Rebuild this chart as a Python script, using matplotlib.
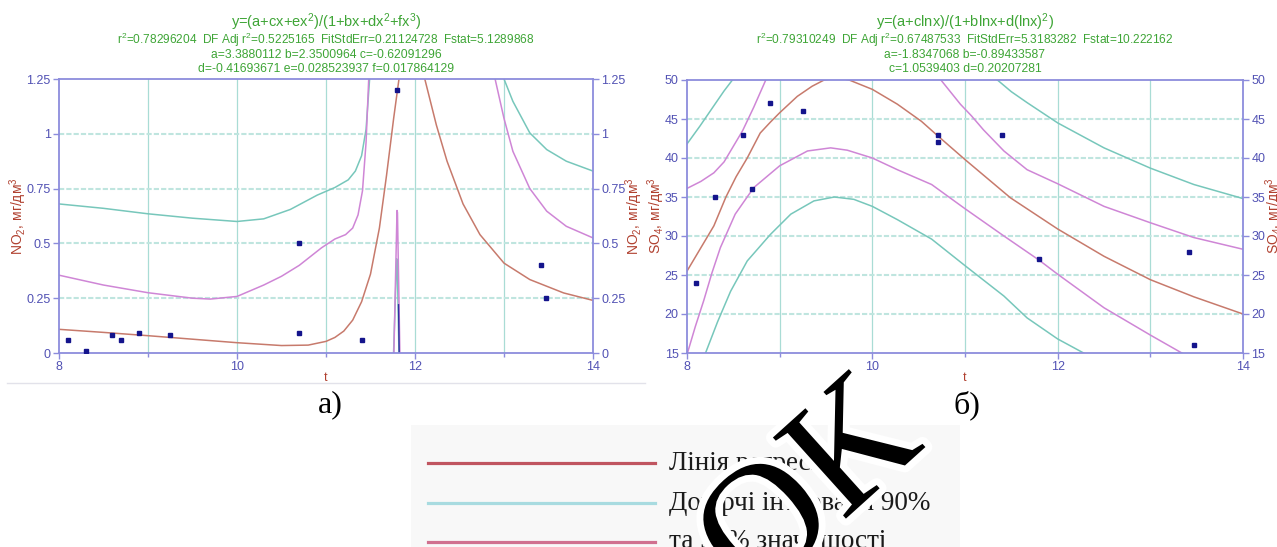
import numpy as np
import matplotlib
matplotlib.use("Agg")
import matplotlib.pyplot as plt
from matplotlib.ticker import FixedLocator, FixedFormatter
from matplotlib.patches import Rectangle
from matplotlib.lines import Line2D
import matplotlib.patheffects as pe

plt.rcParams['font.family'] = ['Liberation Sans', 'DejaVu Sans']
plt.rcParams['mathtext.fontset'] = 'custom'
plt.rcParams['mathtext.rm'] = 'Liberation Sans'
plt.rcParams['mathtext.it'] = 'Liberation Sans:italic'

nan = np.nan

# ---------------- data: panel a (NO2) ----------------
t_no2 = [8.1, 8.3, 8.6, 8.7, 8.9, 9.25, 10.7, 10.7, 11.4, 11.8, 13.42, 13.47]
no2 = [0.06, 0.01, 0.08, 0.06, 0.09, 0.08, 0.5, 0.09, 0.06, 1.2, 0.4, 0.25]

fit_x_a = [8.0, 8.5, 9.0, 9.5, 10.0, 10.5, 10.8, 11.0, 11.1, 11.2, 11.3, 11.4, 11.5,
           11.6, 11.68, 11.76, 11.82, 11.9, 12.0, 12.11, 12.24, 12.36, 12.54, 12.73,
           13.0, 13.29, 13.67, 14.0]
fit_y_a = [0.108, 0.094, 0.079, 0.063, 0.047, 0.034, 0.036, 0.053, 0.071, 0.10, 0.15,
           0.234, 0.36, 0.57, 0.81, 1.07, 1.25, 1.43, 1.44, 1.25, 1.04, 0.875, 0.68,
           0.54, 0.41, 0.335, 0.274, 0.24]

up95_x_a = [8.0, 8.5, 9.0, 9.5, 9.7, 10.0, 10.3, 10.5, 10.7, 10.95, 11.1, 11.22, 11.3,
            11.36, 11.41, 11.45, 11.48, 11.5, nan, 12.87, 12.9, 13.0, 13.1, 13.29,
            13.48, 13.7, 14.0]
up95_y_a = [0.355, 0.31, 0.275, 0.25, 0.246, 0.258, 0.31, 0.35, 0.40, 0.48, 0.52, 0.54,
            0.57, 0.63, 0.74, 0.96, 1.25, 1.4, nan, 1.4, 1.25, 1.07, 0.92, 0.75, 0.647,
            0.578, 0.525]

up90_x_a = [8.0, 8.5, 9.0, 9.5, 10.0, 10.3, 10.6, 10.9, 11.1, 11.25, 11.33, 11.4, 11.45,
            11.49, 11.51, nan, 12.97, 13.0, 13.1, 13.29, 13.48, 13.7, 14.0]
up90_y_a = [0.68, 0.66, 0.635, 0.615, 0.60, 0.612, 0.655, 0.72, 0.755, 0.79, 0.83, 0.90,
            1.02, 1.25, 1.4, nan, 1.35, 1.25, 1.148, 1.004, 0.928, 0.875, 0.83]

lo95_x_a = [11.76, 11.798, 11.803, 11.832]
lo95_y_a = [-0.05, 0.65, 0.64, -0.05]
lo90_x_a = [11.755, 11.794, 11.80, 11.822]
lo90_y_a = [-0.05, 0.43, 0.42, -0.05]
lo_dark_x_a = [11.815, 11.823]
lo_dark_y_a = [0.22, -0.02]

# ---------------- data: panel b (SO4) ----------------
t_so4 = [8.1, 8.3, 8.6, 8.7, 8.9, 9.25, 10.71, 10.71, 11.4, 11.8, 13.42, 13.47]
so4 = [24, 35, 43, 36, 47, 46, 43, 42, 43, 27, 28, 16]

fit_x_b = [8.0, 8.15, 8.29, 8.42, 8.53, 8.65, 8.79, 8.9, 9.0, 9.19, 9.35, 9.48, 9.62,
           9.75, 10.0, 10.27, 10.53, 10.71, 11.0, 11.49, 12.0, 12.5, 13.0, 13.47, 14.0]
fit_y_b = [25.5, 28.5, 31.3, 35.0, 37.6, 40.0, 43.2, 44.6, 45.8, 47.9, 49.2, 50.0, 50.3,
           50.0, 48.8, 46.9, 44.7, 42.8, 39.8, 34.9, 30.9, 27.4, 24.4, 22.2, 20.0]

up95_x_b = [8.0, 8.15, 8.29, 8.4, 8.47, 8.6, 8.72, 8.85, 8.9, nan, 10.7, 10.74, 10.95,
            11.07, 11.2, 11.42, 11.67, 12.0, 12.5, 13.0, 13.47, 14.0]
up95_y_b = [36.1, 37.0, 38.1, 39.5, 40.9, 43.5, 46.5, 50.0, 51.5, nan, 51.0, 50.0, 46.9,
            45.4, 43.6, 40.9, 38.5, 36.7, 33.8, 31.7, 29.8, 28.3]

lo95_x_b = [8.0, 8.09, 8.18, 8.27, 8.36, 8.52, 8.72, 9.0, 9.3, 9.55, 9.73, 10.0, 10.27,
            10.64, 11.0, 11.42, 11.8, 12.0, 12.5, 13.0, 13.34, 13.4]
lo95_y_b = [14.8, 18.4, 21.7, 25.3, 28.5, 32.8, 36.2, 39.0, 40.9, 41.3, 41.0, 40.0, 38.5,
            36.6, 33.5, 30.0, 26.9, 25.1, 20.8, 17.3, 15.0, 14.6]

up90_x_b = [8.0, 8.14, 8.29, 8.4, 8.49, 8.52, nan, 11.3, 11.35, 11.5, 11.67, 12.0, 12.5,
            13.0, 13.47, 14.0]
up90_y_b = [41.8, 44.1, 46.7, 48.6, 50.0, 50.6, nan, 50.4, 50.0, 48.5, 47.1, 44.5, 41.3,
            38.7, 36.6, 34.8]

lo90_x_b = [8.18, 8.2, 8.33, 8.47, 8.65, 8.9, 9.12, 9.37, 9.59, 9.8, 10.0, 10.27, 10.64,
            11.0, 11.42, 11.67, 12.0, 12.28, 12.32]
lo90_y_b = [14.4, 15.0, 19.0, 22.9, 26.8, 30.2, 32.8, 34.5, 35.0, 34.7, 33.8, 32.1, 29.6,
            26.2, 22.3, 19.5, 16.8, 15.0, 14.7]

# ---------------- texts ----------------
titles_a = ["y=(a+cx+ex$^2$)/(1+bx+dx$^2$+fx$^3$)",
            "r$^2$=0.78296204  DF Adj r$^2$=0.5225165  FitStdErr=0.21124728  Fstat=5.1289868",
            "a=3.3880112 b=2.3500964 c=-0.62091296",
            "d=-0.41693671 e=0.028523937 f=0.017864129"]
titles_b = ["y=(a+clnx)/(1+blnx+d(lnx)$^2$)",
            "r$^2$=0.79310249  DF Adj r$^2$=0.67487533  FitStdErr=5.3183282  Fstat=10.222162",
            "a=-1.8347068 b=-0.89433587",
            "c=1.0539403 d=0.20207281"]
ylabel_a = "NO$_2$, мг/дм$^3$"
ylabel_b = "SO$_4$, мг/дм$^3$"
xticks = [8, 10, 12, 14]
xminor = [9, 11, 13]
yticks_a = [0, 0.25, 0.5, 0.75, 1, 1.25]
yticklabels_a = ["0", "0.25", "0.5", "0.75", "1", "1.25"]
yticks_b = [15, 20, 25, 30, 35, 40, 45, 50]
yticklabels_b = [str(v) for v in yticks_b]
panel_labels = ["а)", "б)"]
legend_labels = ["Лінія регресії", "Довірчі інтервали 90%", "та 95% значущості"]
watermark = "ОК"

# ---------------- styling ----------------
W, H = 1277, 547
fig = plt.figure(figsize=(W / 100, H / 100), dpi=100)

def fx(x):
    return x / W

def fy(y):
    return 1 - y / H

C_FIT = '#c77a6c'
C_95 = '#cf86d6'
C_90 = '#77c7bb'
C_PT = '#14148c'
C_TICK = '#5252b4'
C_SPINE = '#8c8cdc'
C_GRID = '#a9dcd5'
C_HGRID = '#bfe5df'
C_LAB = '#b0402f'
C_GREEN = '#3ea536'

def setup(ax, yt, ytl, ylim):
    ax.set_xlim(8, 14)
    ax.set_ylim(*ylim)
    ax.xaxis.set_major_locator(FixedLocator(xticks))
    ax.xaxis.set_minor_locator(FixedLocator(xminor))
    ax.yaxis.set_major_locator(FixedLocator(yt))
    ax.yaxis.set_major_formatter(FixedFormatter(ytl))
    for s in ax.spines.values():
        s.set_color(C_SPINE)
        s.set_linewidth(1.3)
    ax.tick_params(axis='both', which='both', colors=C_SPINE, labelcolor=C_TICK,
                   labelsize=9, direction='out', length=4, width=1,
                   right=True, labelright=True, pad=2)
    ax.tick_params(axis='x', which='minor', length=3)
    for v in list(xticks[1:-1]) + list(xminor):
        ax.axvline(v, color=C_GRID, lw=0.9, zorder=0.5)
    for v in yt[1:-1]:
        ax.axhline(v, color=C_HGRID, lw=1.5, ls=(0, (2.5, 1)), zorder=0.5)
    ax.text(0.5, -0.093, 't', transform=ax.transAxes, ha='center', va='center',
            color=C_LAB, fontsize=9)

ax1 = fig.add_axes([fx(59), fy(353), fx(593 - 59), (353 - 79) / H])
setup(ax1, yticks_a, yticklabels_a, (0, 1.25))
ax1.plot(up90_x_a, up90_y_a, color=C_90, lw=1.1)
ax1.plot(lo90_x_a, lo90_y_a, color=C_90, lw=1.1)
ax1.plot(up95_x_a, up95_y_a, color=C_95, lw=1.1)
ax1.plot(lo95_x_a, lo95_y_a, color=C_95, lw=1.1)
ax1.plot(lo_dark_x_a, lo_dark_y_a, color='#3030a0', lw=1.0)
ax1.plot(fit_x_a, fit_y_a, color=C_FIT, lw=1.1)
ax1.plot(t_no2, no2, ls='none', marker='s', ms=2.2, color=C_PT, zorder=5)

ax2 = fig.add_axes([fx(687), fy(353), fx(1243 - 687), (353 - 80) / H])
setup(ax2, yticks_b, yticklabels_b, (15, 50))
ax2.plot(up90_x_b, up90_y_b, color=C_90, lw=1.1)
ax2.plot(lo90_x_b, lo90_y_b, color=C_90, lw=1.1)
ax2.plot(up95_x_b, up95_y_b, color=C_95, lw=1.1)
ax2.plot(lo95_x_b, lo95_y_b, color=C_95, lw=1.1)
ax2.plot(fit_x_b, fit_y_b, color=C_FIT, lw=1.1)
ax2.plot(t_so4, so4, ls='none', marker='s', ms=2.2, color=C_PT, zorder=5)

# titles
line_y = [22, 40, 55, 69]
line_fs = [10.5, 8.6, 8.7, 8.7]
for cx, lines in ((326, titles_a), (965, titles_b)):
    for yy, fs, txt in zip(line_y, line_fs, lines):
        fig.text(fx(cx), fy(yy), txt, ha='center', va='center', color=C_GREEN, fontsize=fs)

# y labels
for xx, lab in ((18, ylabel_a), (634, ylabel_a), (656, ylabel_b), (1274, ylabel_b)):
    fig.text(fx(xx), fy(216), lab, rotation=90, ha='center', va='center',
             color=C_LAB, fontsize=10)

# thin separator line under panel a
fig.add_artist(Line2D([fx(7), fx(645)], [fy(383), fy(383)], color='#e2e2ea', lw=1))

# panel labels
serif = ['Liberation Serif', 'DejaVu Serif']
fig.text(fx(330), fy(405), panel_labels[0], ha='center', va='center', fontsize=23,
         family=serif)
fig.text(fx(967), fy(405), panel_labels[1], ha='center', va='center', fontsize=23,
         family=serif)

# legend block
fig.add_artist(Rectangle((fx(411), 0), fx(960 - 411), fy(425), transform=fig.transFigure,
                         facecolor='#f8f8f8', edgecolor='none', zorder=0))
leg_colors = ['#c05560', '#a8dbe0', '#d0708f']
leg_y = [463, 503, 542]
for yy, col, txt in zip(leg_y, leg_colors, legend_labels):
    fig.add_artist(Line2D([fx(428), fx(655)], [fy(yy), fy(yy)], color=col, lw=2.3))
    fig.text(fx(669), fy(yy), txt, ha='left', va='center', fontsize=19.5, family=serif,
             color='#1a1a1a')

# watermark
fig.text(fx(812), fy(495), watermark, rotation=42, ha='center', va='center', fontsize=120,
         family=serif, color='black',
         path_effects=[pe.withStroke(linewidth=10, foreground='white')], zorder=10)

fig.savefig('out.png', dpi=100, facecolor='white')
